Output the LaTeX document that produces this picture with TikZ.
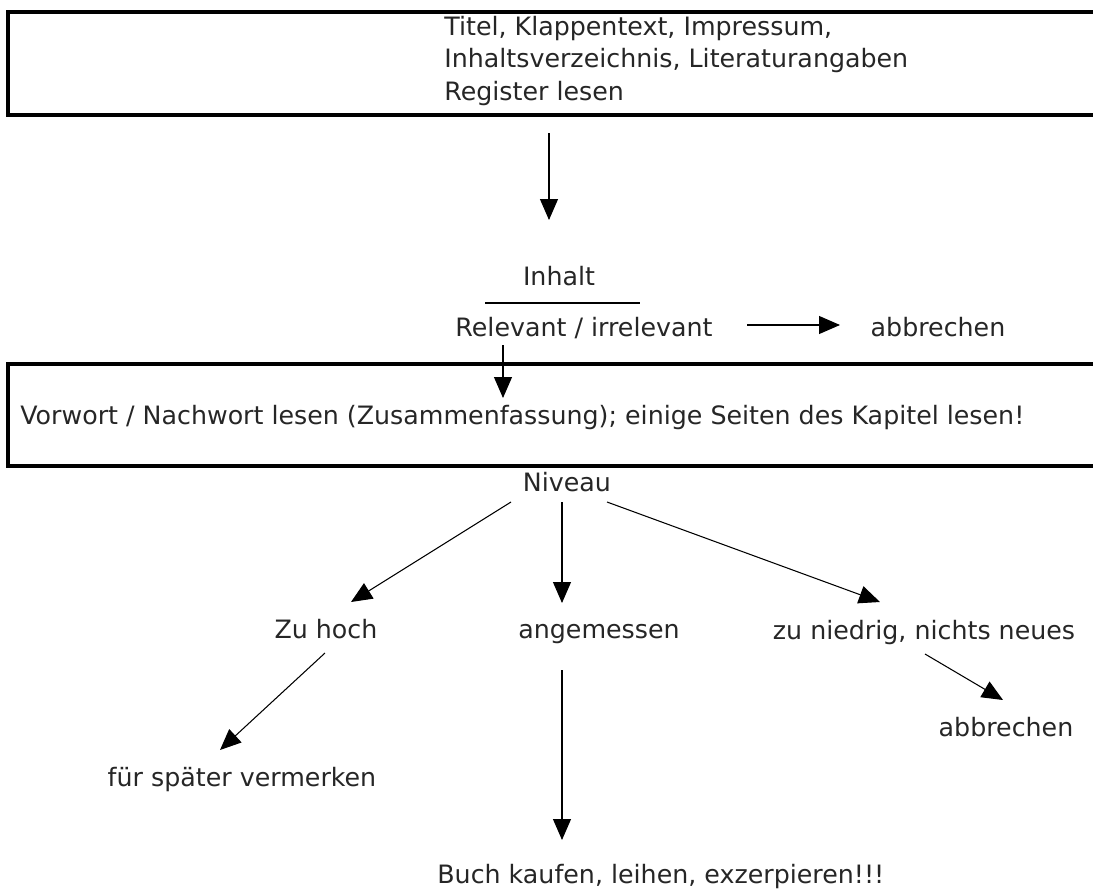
\documentclass[tikz,border=0pt]{standalone}
\usepackage{fontspec}
\setmainfont{DejaVu Sans}
\usetikzlibrary{positioning,arrows.meta,calc}
\tikzset{
kasten/.style={draw, line width=1.9pt},
txt/.style={inner sep=0pt, text=black!85, text height=0.73em, text depth=0.22em},
pfeil/.style={-{Triangle[length=0.42cm,width=0.36cm]}, line width=0.6pt}
}

\begin{document}
\begin{tikzpicture}[x=0.02cm, y=-0.02cm, font=\fontsize{14.4pt}{18.3pt}\selectfont]
  \useasboundingbox (0,0) rectangle (1093,889);

  % Kasten oben
  \draw[kasten] (8,12) rectangle (1110,115);
  \node[inner sep=0pt,text=black!85,anchor=west,align=left] (titel) at (444,61)
    {Titel, Klappentext, Impressum,\\Inhaltsverzeichnis, Literaturangaben\\Register lesen};

  \coordinate (t1) at (549,133);
  \coordinate (t2) at (549,220);
  \draw[pfeil] (t1) -- (t2);

  \node[txt] (inhalt) at (559,281) {Inhalt};
  \coordinate (bruch-l) at (485,303);
  \coordinate (bruch-r) at (640,303);
  \draw[line width=0.8pt] (bruch-l) -- (bruch-r);
  \node[txt] (relevant) at (584,332) {Relevant / irrelevant};
  \node[txt] (abbr1) at (938,332) {abbrechen};

  \coordinate (r1) at (747,325);
  \coordinate (r2) at (840,325);
  \draw[pfeil] (r1) -- (r2);

  \coordinate (r3) at (503,345);
  \coordinate (r4) at (503,398);
  \draw[pfeil] (r3) -- (r4);

  % Kasten Mitte
  \draw[kasten] (8,364) rectangle (1110,466);
  \node[txt,anchor=west] (vorwort) at (20,420)
    {Vorwort / Nachwort lesen (Zusammenfassung); einige Seiten des Kapitel lesen!};

  \node[txt] (niveau) at (567,487) {Niveau};
  \node[txt] (hoch) at (326,634) {Zu hoch};
  \node[txt] (angem) at (599,634) {angemessen};
  \node[txt] (niedrig) at (924,635) {zu niedrig, nichts neues};
  \node[txt] (spaeter) at (242,782) {für später vermerken};
  \node[txt] (abbr2) at (1006,732) {abbrechen};
  \node[txt,anchor=west] (buch) at (437,879) {Buch kaufen, leihen, exzerpieren!!!};

  \coordinate (n1) at (511,502);
  \coordinate (n2) at (562,502);
  \coordinate (n3) at (607,502);
  \coordinate (h1) at (351,602);
  \coordinate (a1) at (562,603);
  \coordinate (z1) at (880,602);
  \draw[pfeil] (n1) -- (h1);
  \draw[pfeil] (n2) -- (a1);
  \draw[pfeil] (n3) -- (z1);

  \coordinate (h2) at (325,653);
  \coordinate (h3) at (220,750);
  \draw[pfeil] (h2) -- (h3);

  \coordinate (a2) at (562,670);
  \coordinate (a3) at (562,840);
  \draw[pfeil] (a2) -- (a3);

  \coordinate (z2) at (925,654);
  \coordinate (z3) at (1003,700);
  \draw[pfeil] (z2) -- (z3);

\end{tikzpicture}
\end{document}
